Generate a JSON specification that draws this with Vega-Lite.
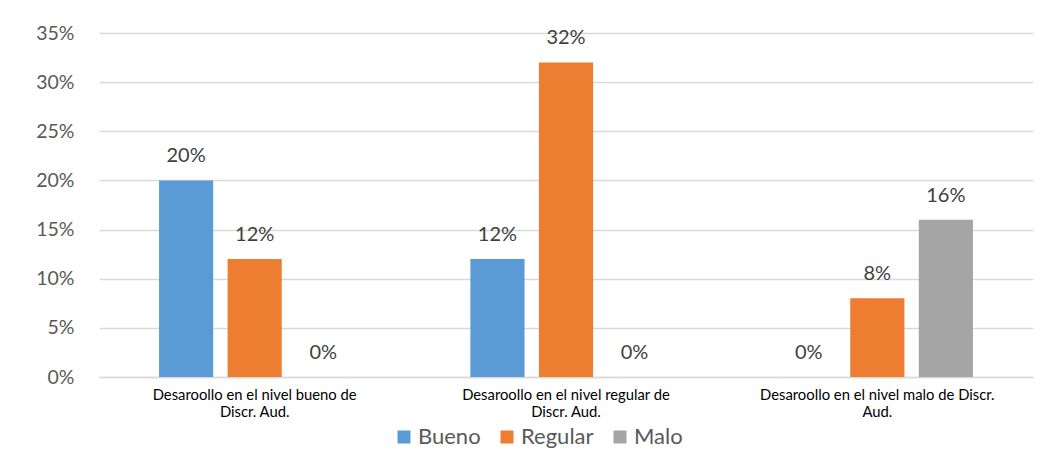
{
  "$schema": "https://vega.github.io/schema/vega-lite/v6.json",
  "width": 934,
  "height": 344,
  "autosize": {"type": "none"},
  "padding": {"left": 99, "top": 33, "right": 14, "bottom": 88},
  "background": "white",
  "config": {
    "font": "Lato",
    "view": {"stroke": null}
  },
  "data": {
    "values": [
      {"cat": "Desaroollo en el nivel bueno de|Discr. Aud.", "serie": "Bueno", "valor": 0.20},
      {"cat": "Desaroollo en el nivel bueno de|Discr. Aud.", "serie": "Regular", "valor": 0.12},
      {"cat": "Desaroollo en el nivel bueno de|Discr. Aud.", "serie": "Malo", "valor": 0.0},
      {"cat": "Desaroollo en el nivel regular de|Discr. Aud.", "serie": "Bueno", "valor": 0.12},
      {"cat": "Desaroollo en el nivel regular de|Discr. Aud.", "serie": "Regular", "valor": 0.32},
      {"cat": "Desaroollo en el nivel regular de|Discr. Aud.", "serie": "Malo", "valor": 0.0},
      {"cat": "Desaroollo en el nivel malo de Discr.|Aud.", "serie": "Bueno", "valor": 0.0},
      {"cat": "Desaroollo en el nivel malo de Discr.|Aud.", "serie": "Regular", "valor": 0.08},
      {"cat": "Desaroollo en el nivel malo de Discr.|Aud.", "serie": "Malo", "valor": 0.16}
    ]
  },
  "encoding": {
    "x": {
      "field": "cat",
      "type": "nominal",
      "sort": null,
      "scale": {"paddingInner": 0, "paddingOuter": 0},
      "axis": {
        "title": null,
        "labelAngle": 0,
        "labelExpr": "split(datum.label, '|')",
        "labelLimit": 400,
        "labelFont": "Lato",
        "labelFontSize": 14.8,
        "labelColor": "#000000",
        "labelLineHeight": 17,
        "labelPadding": 10,
        "ticks": false,
        "domainColor": "#d9d9d9",
        "domainWidth": 1.5,
        "grid": false
      }
    },
    "xOffset": {
      "field": "serie",
      "type": "nominal",
      "sort": ["Bueno", "Regular", "Malo"],
      "scale": {"paddingInner": 0.21, "paddingOuter": 0.876}
    },
    "y": {
      "field": "valor",
      "type": "quantitative",
      "scale": {"domain": [0, 0.35], "nice": false},
      "axis": {
        "title": null,
        "format": ".0%",
        "values": [0, 0.05, 0.1, 0.15, 0.2, 0.25, 0.3, 0.35],
        "labelFont": "Lato",
        "labelFontSize": 19.5,
        "labelColor": "#595959",
        "labelPadding": 25,
        "ticks": false,
        "domain": false,
        "gridColor": "#d9d9d9",
        "gridWidth": 1.5
      }
    }
  },
  "layer": [
    {
      "mark": {"type": "bar"},
      "encoding": {
        "color": {
          "field": "serie",
          "type": "nominal",
          "sort": ["Bueno", "Regular", "Malo"],
          "scale": {"domain": ["Bueno", "Regular", "Malo"], "range": ["#5B9BD5", "#ED7D31", "#A5A5A5"]},
          "legend": {
            "title": null,
            "orient": "none",
            "legendX": 294,
            "legendY": 393,
            "direction": "horizontal",
            "symbolType": "square",
            "symbolSize": 169,
            "symbolStrokeWidth": 0,
            "symbolOpacity": 1,
            "labelFont": "Lato",
            "labelFontSize": 22,
            "labelColor": "#595959",
            "labelOffset": 3,
            "columnPadding": 15
          }
        }
      }
    },
    {
      "mark": {"type": "text", "baseline": "bottom", "dy": -14, "fontSize": 20, "color": "#404040", "font": "Lato"},
      "encoding": {
        "text": {"field": "valor", "type": "quantitative", "format": ".0%"}
      }
    }
  ]
}
